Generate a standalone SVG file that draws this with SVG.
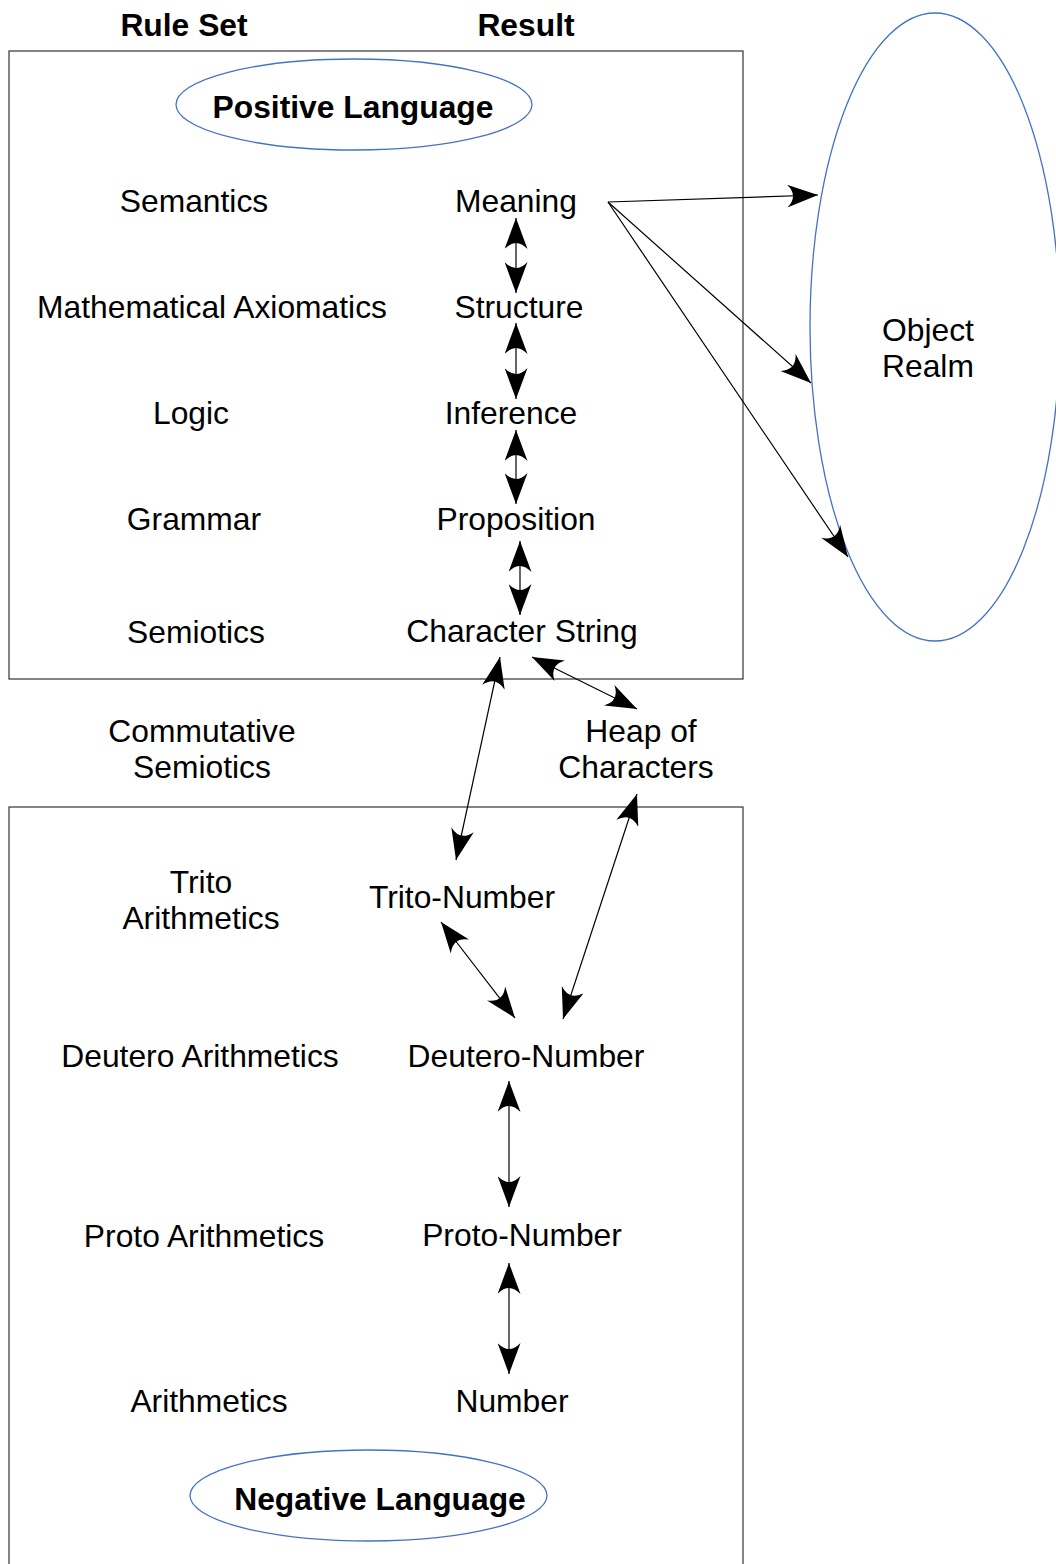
<svg xmlns="http://www.w3.org/2000/svg" width="1056" height="1564" viewBox="0 0 1056 1564">
<style>
.t{font-family:"Liberation Sans",Arial,sans-serif;font-size:31.8px;fill:#000;text-anchor:middle}
.b{font-weight:bold}
.s{text-anchor:start}
.box{fill:none;stroke:#333;stroke-width:1.2}
.ell{fill:none;stroke:#4472c4;stroke-width:1.3}
.c{fill:none;stroke:#000;stroke-width:1.2}
.c2{marker-start:url(#ah);marker-end:url(#ah)}
.c1{marker-end:url(#ah)}
</style>
<defs>
<marker id="ah" viewBox="0 0 31 23" markerUnits="userSpaceOnUse" markerWidth="31" markerHeight="23" refX="31" refY="11.5" orient="auto-start-reverse">
<path d="M31,11.5 L0,0 Q12,11.5 0,23 Z" fill="#000"/>
</marker>
</defs>
<rect width="1056" height="1564" fill="#fff"/>
<g id="headers">
<text class="t b" x="184" y="36">Rule Set</text>
<text class="t b" x="526" y="36">Result</text>
</g>
<g id="positive-box"><rect class="box" x="9" y="51" width="734" height="628"/></g>
<g id="negative-box"><rect class="box" x="9" y="807" width="734" height="800"/></g>
<g id="positive-language">
<ellipse class="ell" cx="354" cy="104.5" rx="178" ry="45.5"/>
<text class="t b" x="353" y="118">Positive Language</text>
</g>
<g id="object-realm">
<ellipse class="ell" cx="935" cy="327" rx="125" ry="314"/>
<text class="t s" x="882" y="341">Object</text>
<text class="t s" x="882" y="377">Realm</text>
</g>
<g id="semantics"><text class="t" x="194" y="212">Semantics</text></g>
<g id="meaning"><text class="t" x="516" y="212">Meaning</text></g>
<g id="math-axiomatics"><text class="t" x="212" y="318">Mathematical Axiomatics</text></g>
<g id="structure"><text class="t" x="519" y="318">Structure</text></g>
<g id="logic"><text class="t" x="191" y="424">Logic</text></g>
<g id="inference"><text class="t" x="511" y="424">Inference</text></g>
<g id="grammar"><text class="t" x="194" y="530">Grammar</text></g>
<g id="proposition"><text class="t" x="516" y="530">Proposition</text></g>
<g id="semiotics"><text class="t" x="196" y="643">Semiotics</text></g>
<g id="character-string"><text class="t" x="522" y="642">Character String</text></g>
<g id="commutative-semiotics">
<text class="t" x="202" y="742">Commutative</text>
<text class="t" x="202" y="778">Semiotics</text>
</g>
<g id="heap-of-characters">
<text class="t" x="641" y="742">Heap of</text>
<text class="t" x="636" y="778">Characters</text>
</g>
<g id="trito-arithmetics">
<text class="t" x="201" y="893">Trito</text>
<text class="t" x="201" y="929">Arithmetics</text>
</g>
<g id="trito-number"><text class="t" x="462" y="908">Trito-Number</text></g>
<g id="deutero-arithmetics"><text class="t" x="200" y="1067">Deutero Arithmetics</text></g>
<g id="deutero-number"><text class="t" x="526" y="1067">Deutero-Number</text></g>
<g id="proto-arithmetics"><text class="t" x="204" y="1247">Proto Arithmetics</text></g>
<g id="proto-number"><text class="t" x="522" y="1246">Proto-Number</text></g>
<g id="arithmetics"><text class="t" x="209" y="1412">Arithmetics</text></g>
<g id="number"><text class="t" x="512" y="1412">Number</text></g>
<g id="negative-language">
<ellipse class="ell" cx="368.5" cy="1495.5" rx="178.5" ry="45.5"/>
<text class="t b" x="380" y="1510">Negative Language</text>
</g>
<g id="connectors">
<line class="c c2" x1="516" y1="218" x2="516" y2="293"/>
<line class="c c2" x1="516" y1="323" x2="516" y2="399"/>
<line class="c c2" x1="516" y1="430" x2="516" y2="504"/>
<line class="c c2" x1="520" y1="541" x2="520" y2="615"/>
<line class="c c1" x1="608" y1="202" x2="818" y2="195"/>
<line class="c c1" x1="608" y1="202" x2="811" y2="383"/>
<line class="c c1" x1="608" y1="202" x2="848" y2="557"/>
<line class="c c2" x1="532" y1="657" x2="637" y2="709"/>
<line class="c c2" x1="500" y1="657" x2="456" y2="860"/>
<line class="c c2" x1="637" y1="794" x2="563" y2="1019"/>
<line class="c c2" x1="441" y1="922" x2="515" y2="1018"/>
<line class="c c2" x1="509" y1="1081" x2="509" y2="1207"/>
<line class="c c2" x1="509" y1="1263" x2="509" y2="1374"/>
</g>
</svg>
